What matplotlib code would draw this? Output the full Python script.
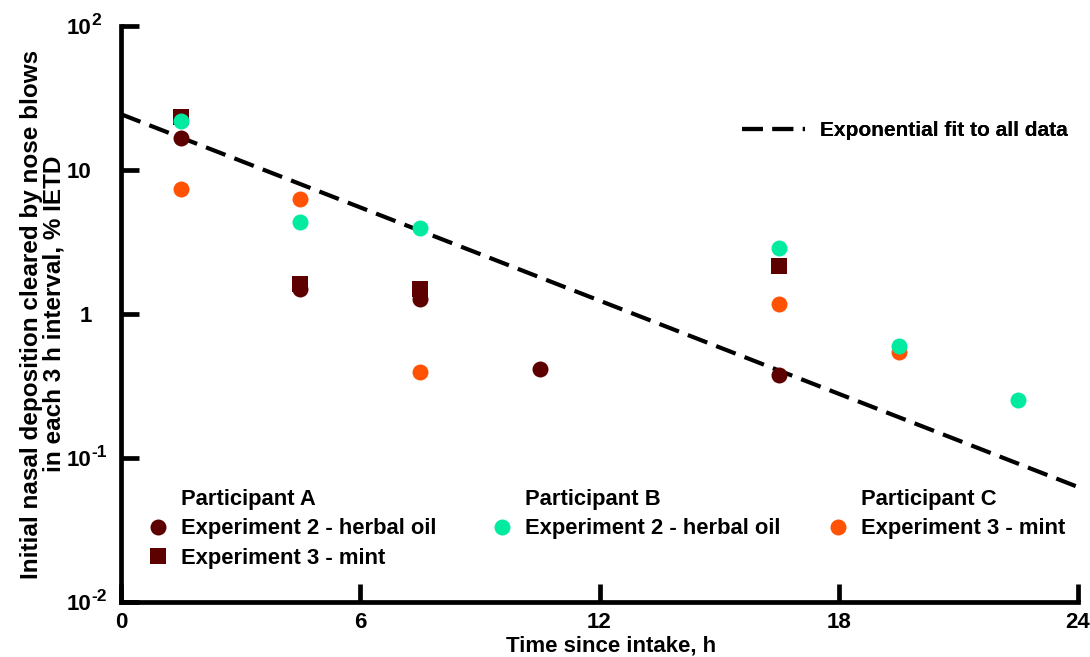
import matplotlib
matplotlib.use("Agg")
import matplotlib.pyplot as plt
from matplotlib.lines import Line2D
from matplotlib.ticker import NullLocator

plt.rcParams['font.family'] = ['Liberation Sans', 'DejaVu Sans']
plt.rcParams['font.weight'] = 'bold'
plt.rcParams['axes.labelweight'] = 'bold'

# --- data: % IETD cleared by nose blows, mid-points of each 3 h interval ---
t_a_oil = [1.5, 4.5, 7.5, 10.5, 16.5]
a_oil = [16.7, 1.50, 1.27, 0.415, 0.375]

t_a_mint = [1.5, 4.5, 7.5, 16.5]
a_mint = [23.4, 1.61, 1.50, 2.16]

t_b_oil = [1.5, 4.5, 7.5, 16.5, 19.5, 22.5]
b_oil = [21.9, 4.35, 3.97, 2.86, 0.600, 0.254]

t_c_mint = [1.5, 4.5, 7.5, 16.5, 19.5]
c_mint = [7.38, 6.32, 0.398, 1.18, 0.547]

# exponential fit, end points (straight on the log axis)
t_fit = [0, 24]
y_fit = [24.4, 0.0629]

x_ticks = [0, 6, 12, 18, 24]
y_ticks = [0.01, 0.1, 1, 10, 100]
y_base = ['10', '10', '1', '10', '10']
y_exp = ['-2', '-1', '', '', '2']

c_a = '#5c0000'
c_b = '#00eba0'
c_c = '#ff5205'

fig = plt.figure(figsize=(10.9, 6.57), dpi=100)
ax = fig.add_axes([121 / 1090, 55 / 657, 957 / 1090, 576 / 657])

ax.set_yscale('log')
ax.set_xlim(0, 24)
ax.set_ylim(0.01, 100)

# fit line
ax.plot(t_fit, y_fit, color='black', lw=3, linestyle=(0, (5, 2.3)),
        clip_on=False, zorder=2)

# points
ax.plot(t_a_oil, a_oil, 'o', color=c_a, ms=11.5, mew=0, zorder=3)
ax.plot(t_a_mint, a_mint, 's', color=c_a, ms=12, mew=0, zorder=3)
ax.plot(t_c_mint, c_mint, 'o', color=c_c, ms=11.5, mew=0, zorder=4)
ax.plot(t_b_oil, b_oil, 'o', color=c_b, ms=11.5, mew=0, zorder=5)

# axes styling
for side in ['top', 'right']:
    ax.spines[side].set_visible(False)
for side in ['left', 'bottom']:
    ax.spines[side].set_linewidth(3.4)
    ax.spines[side].set_capstyle('projecting')

ax.set_xticks(x_ticks)
ax.set_xticklabels([str(v) for v in x_ticks])
ax.set_yticks(y_ticks)
ax.set_yticklabels([])
ax.yaxis.set_minor_locator(NullLocator())
ax.tick_params(axis='both', direction='in', length=13, width=3.4,
               labelsize=16)
ax.tick_params(axis='x', pad=7.5)

# y tick labels: base number plus raised exponent
for val, base, ex in zip(y_ticks, y_base, y_exp):
    ax.annotate(base, xy=(0, val), xycoords=('axes fraction', 'data'),
                xytext=(-21, -5.8), textcoords='offset points',
                ha='right', va='baseline', fontsize=16, annotation_clip=False)
    if ex:
        ax.annotate(ex, xy=(0, val), xycoords=('axes fraction', 'data'),
                    xytext=(-21.6, 1.0), textcoords='offset points',
                    ha='left', va='baseline', fontsize=12.5,
                    annotation_clip=False)

ax.set_xlabel('Time since intake, h', fontsize=16)
ax.xaxis.set_label_coords(0.512, -0.059)
ax.set_ylabel('Initial nasal deposition cleared by nose blows\n'
              'in each 3 h interval, % IETD', fontsize=17.5, linespacing=0.98)
ax.yaxis.set_label_coords(-0.058, 0.5)

# legends: one block per participant, header as a handle-less entry
blank = Line2D([], [], linestyle='none')
common = dict(frameon=False, fontsize=15.8, handlelength=1.0,
              handletextpad=0.55, labelspacing=0.38, borderpad=0,
              borderaxespad=0, loc='upper left')

groups = [
    ('Participant A',
     [Line2D([], [], ls='none', marker='o', ms=11.5, color=c_a, mew=0),
      Line2D([], [], ls='none', marker='s', ms=12, color=c_a, mew=0)],
     ['Experiment 2 - herbal oil', 'Experiment 3 - mint'], 147),
    ('Participant B',
     [Line2D([], [], ls='none', marker='o', ms=11.5, color=c_b, mew=0)],
     ['Experiment 2 - herbal oil'], 491),
    ('Participant C',
     [Line2D([], [], ls='none', marker='o', ms=11.5, color=c_c, mew=0)],
     ['Experiment 3 - mint'], 827),
]
for title, handles, labels, xpix in groups:
    leg = ax.legend([blank] + handles, [title] + labels,
                    bbox_to_anchor=(xpix / 1090, 1 - 489 / 657),
                    bbox_transform=fig.transFigure, **common)
    ax.add_artist(leg)

fit_handle = Line2D([], [], color='black', lw=3, linestyle=(0, (5, 2.3)))
leg = ax.legend([fit_handle], ['Exponential fit to all data'], frameon=False,
                fontsize=15, handlelength=3.0, handletextpad=0.75,
                borderpad=0, borderaxespad=0, loc='center left',
                bbox_to_anchor=(742 / 1090, 1 - 131 / 657),
                bbox_transform=fig.transFigure)
ax.add_artist(leg)

fig.savefig('out.png', dpi=100)
